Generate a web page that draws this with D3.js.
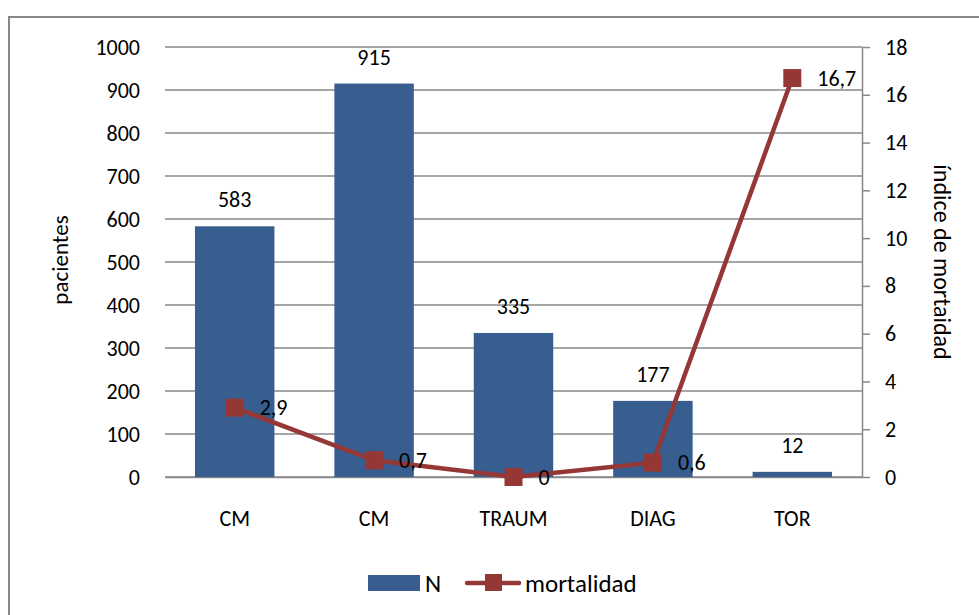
<!DOCTYPE html>
<html>
<head>
<meta charset="utf-8">
<script src="https://cdn.jsdelivr.net/npm/d3@7"></script>
<style>
  body { margin: 0; background: #fff; }
  svg text { font-family: Carlito, Lato, "Open Sans", sans-serif; fill: #000; }
</style>
</head>
<body>
<div id="chart"></div>
<script>
// data
var categories = ["CM", "CM", "TRAUM", "DIAG", "TOR"];
var pacientes = [583, 915, 335, 177, 12];
var mortalidad = [2.9, 0.7, 0, 0.6, 16.7];
var leftTicks = [0, 100, 200, 300, 400, 500, 600, 700, 800, 900, 1000];
var rightTicks = [0, 2, 4, 6, 8, 10, 12, 14, 16, 18];

var W = 979, H = 615;
var pLeft = 165, pRight = 862, pTop = 47, pBottom = 477;
var barColor = "#385e8f", lineColor = "#953735", gridColor = "#888";
var fs = "22px";

var svg = d3.select("#chart").append("svg").attr("width", W).attr("height", H);

// outer frame
svg.append("rect").attr("x", 9).attr("y", 17).attr("width", 1000).attr("height", 700)
  .attr("fill", "none").attr("stroke", gridColor).attr("stroke-width", 2);

var x = d3.scaleBand().domain(d3.range(categories.length)).range([pLeft, pRight]).paddingInner(0.43).paddingOuter(0.215);
var yL = d3.scaleLinear().domain([0, 1000]).range([pBottom, pTop]);
var yR = d3.scaleLinear().domain([0, 18]).range([pBottom, pTop]);

// gridlines
svg.append("g").selectAll("line").data(leftTicks).enter().append("line")
  .attr("x1", pLeft).attr("x2", pRight)
  .attr("y1", function (d) { return yL(d); }).attr("y2", function (d) { return yL(d); })
  .attr("stroke", gridColor).attr("stroke-width", 1.5);

// left axis labels
var axL = d3.axisLeft(yL).tickValues(leftTicks).tickFormat(d3.format("d")).tickSize(0).tickPadding(25);
svg.append("g").attr("transform", "translate(" + pLeft + ",0)").call(axL)
  .call(function (g) { g.select(".domain").remove(); })
  .selectAll("text").style("font-size", fs);

// right axis
var axR = d3.axisRight(yR).tickValues(rightTicks).tickSize(8).tickPadding(15).tickSizeOuter(0);
var gR = svg.append("g").attr("transform", "translate(" + pRight + ",0)").call(axR);
gR.select(".domain").attr("stroke", gridColor).attr("stroke-width", 1.5);
gR.selectAll(".tick line").attr("stroke", gridColor).attr("stroke-width", 1.5);
gR.selectAll("text").style("font-size", fs);

// bottom axis
var axB = d3.axisBottom(x).tickFormat(function (i) { return categories[i]; }).tickSize(0).tickPadding(33);
var gB = svg.append("g").attr("transform", "translate(0," + pBottom + ")").call(axB);
gB.select(".domain").attr("stroke", gridColor).attr("stroke-width", 1.5);
gB.selectAll("text").style("font-size", fs);

// bars
svg.append("g").selectAll("rect").data(pacientes).enter().append("rect")
  .attr("x", function (d, i) { return x(i); })
  .attr("y", function (d) { return yL(d); })
  .attr("width", x.bandwidth())
  .attr("height", function (d) { return pBottom - yL(d); })
  .attr("fill", barColor);

svg.append("g").selectAll("text").data(pacientes).enter().append("text")
  .attr("x", function (d, i) { return x(i) + x.bandwidth() / 2; })
  .attr("y", function (d) { return yL(d) - 19; })
  .attr("text-anchor", "middle").style("font-size", fs)
  .text(function (d) { return d; });

// line
var cx = function (i) { return x(i) + x.bandwidth() / 2; };
var line = d3.line().x(function (d, i) { return cx(i); }).y(function (d) { return yR(d); });
svg.append("path").datum(mortalidad).attr("d", line)
  .attr("fill", "none").attr("stroke", lineColor).attr("stroke-width", 4.5);

svg.append("g").selectAll("rect").data(mortalidad).enter().append("rect")
  .attr("x", function (d, i) { return cx(i) - 9; })
  .attr("y", function (d) { return yR(d) - 9; })
  .attr("width", 18).attr("height", 18).attr("fill", lineColor);

svg.append("g").selectAll("text").data(mortalidad).enter().append("text")
  .attr("x", function (d, i) { return cx(i) + 25; })
  .attr("y", function (d) { return yR(d); })
  .attr("dy", "0.35em").style("font-size", fs)
  .text(function (d) { return String(d).replace(".", ","); });

// axis titles
svg.append("text").attr("transform", "translate(68,260) rotate(-90)")
  .attr("text-anchor", "middle").style("font-size", "23px").text("pacientes");
svg.append("text").attr("transform", "translate(934,262) rotate(90)")
  .attr("text-anchor", "middle").style("font-size", "24px").text("índice de mortaidad");

// legend
var lg = svg.append("g");
lg.append("rect").attr("x", 368).attr("y", 575).attr("width", 52).attr("height", 16).attr("fill", barColor);
lg.append("text").attr("x", 425).attr("y", 583).attr("dy", "0.35em").style("font-size", "25px").text("N");
lg.append("line").attr("x1", 467).attr("x2", 519).attr("y1", 583).attr("y2", 583)
  .attr("stroke", lineColor).attr("stroke-width", 4.5).attr("stroke-linecap", "round");
lg.append("rect").attr("x", 485).attr("y", 574).attr("width", 17).attr("height", 17).attr("fill", lineColor);
lg.append("text").attr("x", 525).attr("y", 583).attr("dy", "0.35em").style("font-size", "25px").text("mortalidad");
</script>
</body>
</html>
